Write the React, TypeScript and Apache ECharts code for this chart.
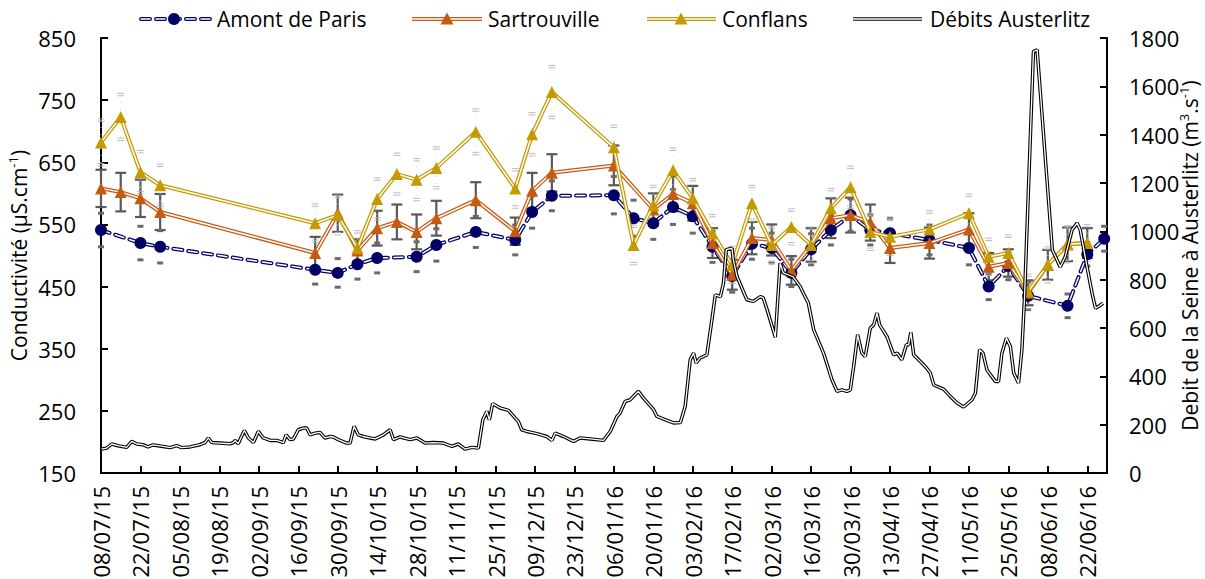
import React, { useEffect, useRef } from 'react';
import * as echarts from 'echarts';

const FONT = "'Open Sans', sans-serif";
const FS = 21;
const BASE = Date.UTC(2015, 6, 8);
const DAY = 86400000;

// ---- Axis ticks ----
const xTickLabels = ['08/07/15', '22/07/15', '05/08/15', '19/08/15', '02/09/15', '16/09/15', '30/09/15', '14/10/15', '28/10/15', '11/11/15', '25/11/15', '09/12/15', '23/12/15', '06/01/16', '20/01/16', '03/02/16', '17/02/16', '02/03/16', '16/03/16', '30/03/16', '13/04/16', '27/04/16', '11/05/16', '25/05/16', '08/06/16', '22/06/16'];
const xAxisEnd = '29/06/16';
const leftTicks = [150, 250, 350, 450, 550, 650, 750, 850];
const rightTicks = [0, 200, 400, 600, 800, 1000, 1200, 1400, 1600, 1800];

// ---- Amont de Paris ----
const amontDates = ['2015-07-08', '2015-07-22', '2015-07-29', '2015-09-22', '2015-09-30', '2015-10-07', '2015-10-14', '2015-10-28', '2015-11-04', '2015-11-18', '2015-12-02', '2015-12-08', '2015-12-15', '2016-01-06', '2016-01-13', '2016-01-20', '2016-01-27', '2016-02-03', '2016-02-10', '2016-02-17', '2016-02-24', '2016-03-02', '2016-03-09', '2016-03-16', '2016-03-23', '2016-03-30', '2016-04-06', '2016-04-13', '2016-04-27', '2016-05-11', '2016-05-18', '2016-05-25', '2016-06-01', '2016-06-15', '2016-06-22', '2016-06-28'];
const amontValues = [541, 520, 514, 477, 472, 486, 496, 498, 517, 538, 525, 570, 596, 597, 560, 552, 578, 563, 514, 467, 519, 512, 472, 510, 541, 565, 541, 536, 525, 512, 450, 483, 435, 419, 502, 527];
const amontErr = [27, 27, 26, 23, 23, 24, 24, 24, 26, 25, 24, 26, 24, 30, 29, 26, 28, 27, 25, 26, 25, 24, 22, 25, 24, 26, 24, 24, 24, 27, 21, 22, 22, 19, 19, 20];

// ---- Sartrouville ----
const sartDates = ['2015-07-08', '2015-07-15', '2015-07-22', '2015-07-29', '2015-09-22', '2015-09-30', '2015-10-07', '2015-10-14', '2015-10-21', '2015-10-28', '2015-11-04', '2015-11-18', '2015-12-02', '2015-12-08', '2015-12-15', '2016-01-06', '2016-01-20', '2016-01-27', '2016-02-03', '2016-02-10', '2016-02-17', '2016-02-24', '2016-03-02', '2016-03-09', '2016-03-16', '2016-03-23', '2016-03-30', '2016-04-06', '2016-04-13', '2016-04-27', '2016-05-11', '2016-05-18', '2016-05-25', '2016-06-01', '2016-06-08', '2016-06-15', '2016-06-22'];
const sartValues = [608, 602, 592, 570, 504, 568, 508, 544, 554, 538, 560, 589, 539, 604, 633, 645, 574, 599, 584, 520, 469, 528, 525, 476, 517, 560, 565, 553, 512, 520, 542, 482, 488, 440, 485, 518, 520];
const sartErr = [30, 31, 30, 29, 26, 30, 18, 28, 28, 28, 28, 29, 22, 29, 30, 32, 26, 28, 28, 24, 24, 26, 25, 23, 27, 32, 28, 29, 24, 25, 26, 22, 22, 20, 24, 27, 24];

// ---- Conflans ----
const confDates = ['2015-07-08', '2015-07-15', '2015-07-22', '2015-07-29', '2015-09-22', '2015-09-30', '2015-10-07', '2015-10-14', '2015-10-21', '2015-10-28', '2015-11-04', '2015-11-18', '2015-12-02', '2015-12-08', '2015-12-15', '2016-01-06', '2016-01-13', '2016-01-20', '2016-01-27', '2016-02-03', '2016-02-10', '2016-02-17', '2016-02-24', '2016-03-02', '2016-03-09', '2016-03-16', '2016-03-23', '2016-03-30', '2016-04-06', '2016-04-13', '2016-04-27', '2016-05-11', '2016-05-18', '2016-05-25', '2016-06-01', '2016-06-08', '2016-06-15', '2016-06-22'];
const confValues = [682, 723, 634, 613, 552, 565, 512, 591, 631, 622, 641, 699, 608, 695, 763, 674, 517, 581, 637, 592, 536, 485, 584, 517, 546, 517, 576, 610, 538, 530, 542, 568, 498, 504, 442, 485, 518, 520];
const confErr = [36, 36, 33, 32, 29, 30, 26, 32, 32, 32, 32, 35, 30, 33, 41, 34, 30, 30, 34, 30, 28, 28, 27, 28, 27, 27, 30, 32, 28, 28, 28, 29, 28, 27, 26, 27, 28, 28];

// ---- Débits Austerlitz (days since 08/07/15, m3/s) ----
const debitDays = [0.2, 2.0, 3.8, 6.0, 9.1, 10.9, 12.7, 14.9, 16.7, 18.5, 22.0, 24.5, 26.9, 28.6, 31.6, 35.1, 36.9, 38.1, 39.3, 42.2, 45.8, 47.0, 47.6, 48.7, 49.6, 50.9, 52.3, 54.1, 55.8, 57.6, 60.0, 62.4, 64.7, 65.7, 67.1, 68.3, 70.0, 71.8, 73.0, 74.2, 76.0, 77.7, 79.5, 81.3, 82.5, 84.2, 87.2, 88.4, 89.8, 91.3, 93.1, 95.5, 97.3, 100.2, 102.6, 103.8, 106.1, 109.7, 112.1, 115.0, 118.0, 121.5, 124.5, 126.8, 129.2, 131.6, 133.9, 135.5, 136.9, 137.8, 139.0, 141.6, 144.6, 147.0, 148.1, 149.3, 151.1, 154.7, 158.2, 160.0, 161.2, 164.1, 167.7, 170.0, 173.6, 178.3, 180.7, 183.1, 184.2, 186.0, 187.8, 190.7, 192.5, 196.1, 197.3, 200.8, 203.2, 205.6, 207.3, 209.1, 210.3, 211.2, 212.6, 215.0, 216.8, 218.0, 219.8, 220.9, 221.9, 223.9, 224.4, 225.7, 229.2, 231.5, 234.0, 235.0, 236.4, 239.3, 241.0, 242.1, 245.6, 248.1, 249.2, 251.0, 252.9, 256.4, 259.4, 261.2, 262.9, 264.7, 265.9, 267.1, 268.5, 270.0, 271.2, 273.0, 274.2, 275.4, 276.3, 278.9, 281.3, 282.5, 284.2, 285.8, 286.6, 287.4, 288.4, 290.7, 292.5, 294.3, 295.5, 296.7, 299.0, 301.4, 303.8, 306.1, 309.1, 310.3, 311.8, 313.0, 314.4, 315.6, 317.4, 318.5, 319.7, 321.3, 322.7, 323.9, 325.6, 326.8, 327.7, 330.9, 332.2, 335.7, 337.6, 338.7, 340.4, 342.2, 344.6, 346.4, 347.5, 349.9, 351.7, 352.9, 354.0, 355.6];
const debitValues = [99, 103, 120, 113, 106, 131, 120, 117, 108, 116, 110, 105, 113, 105, 108, 117, 126, 145, 126, 124, 121, 126, 135, 121, 145, 176, 145, 126, 172, 145, 135, 135, 126, 158, 138, 141, 179, 186, 186, 158, 165, 168, 145, 151, 149, 138, 124, 124, 193, 158, 151, 145, 141, 158, 179, 138, 149, 138, 145, 124, 126, 124, 110, 120, 99, 106, 103, 220, 255, 220, 287, 269, 259, 227, 213, 179, 172, 163, 151, 135, 165, 151, 131, 145, 141, 135, 172, 234, 248, 296, 303, 338, 310, 262, 234, 218, 207, 209, 275, 469, 496, 455, 476, 489, 634, 737, 730, 786, 924, 930, 882, 813, 717, 710, 730, 725, 675, 562, 868, 828, 812, 772, 745, 704, 593, 496, 386, 338, 344, 338, 344, 441, 572, 496, 482, 600, 613, 662, 613, 565, 489, 496, 469, 531, 531, 582, 489, 462, 441, 414, 365, 358, 347, 317, 290, 273, 303, 331, 510, 496, 427, 407, 379, 379, 496, 558, 524, 414, 372, 510, 717, 1744, 1751, 1213, 923, 896, 852, 896, 1006, 1034, 1006, 854, 744, 682, 689, 703];

const NAVY = '#000066';
const ORANGE = '#C65A11';
const GOLD = '#C49A00';

const dayOfIso = (s: string) =>
  Math.round((Date.UTC(+s.slice(0, 4), +s.slice(5, 7) - 1, +s.slice(8, 10)) - BASE) / DAY);
const dayOfLabel = (s: string) =>
  Math.round((Date.UTC(2000 + +s.slice(6, 8), +s.slice(3, 5) - 1, +s.slice(0, 2)) - BASE) / DAY);

const xTickDays = xTickLabels.map(dayOfLabel);
const labelByDay: Record<number, string> = {};
xTickLabels.forEach((l, i) => (labelByDay[xTickDays[i]] = l));

function pairs(dates: string[], vals: number[]) {
  return dates.map((d, i) => [dayOfIso(d), vals[i]]);
}

function errSeries(dates: string[], vals: number[], errs: number[], kind: 'sart' | 'amont' | 'conf') {
  return {
    type: 'custom',
    z: 1,
    silent: true,
    data: dates.map((d, i) => [dayOfIso(d), vals[i], errs[i]]),
    encode: { x: 0, y: 1 },
    renderItem: (params: any, api: any) => {
      const x = api.value(0);
      const v = api.value(1);
      const e = api.value(2);
      const top = api.coord([x, v + e]);
      const bot = api.coord([x, v - e]);
      const children: any[] = [];
      if (kind === 'sart') {
        const cw = 5.5;
        const st = { stroke: '#595959', lineWidth: 2.2 };
        children.push({ type: 'line', shape: { x1: top[0], y1: top[1], x2: bot[0], y2: bot[1] }, style: st });
        children.push({ type: 'line', shape: { x1: top[0] - cw, y1: top[1], x2: top[0] + cw, y2: top[1] }, style: st });
        children.push({ type: 'line', shape: { x1: bot[0] - cw, y1: bot[1], x2: bot[0] + cw, y2: bot[1] }, style: st });
      } else if (kind === 'amont') {
        const w = 6;
        [top, bot].forEach((p) =>
          children.push({ type: 'rect', shape: { x: p[0] - w / 2, y: p[1] - 1.5, width: w, height: 3 }, style: { fill: '#6a6a6a' } })
        );
      } else {
        const w = 7;
        children.push({ type: 'line', shape: { x1: top[0], y1: top[1], x2: bot[0], y2: bot[1] }, style: { stroke: '#d0d0d0', lineWidth: 1, lineDash: [1, 6] } });
        [top, bot].forEach((p) => {
          children.push({ type: 'line', shape: { x1: p[0] - w / 2, y1: p[1] - 1.2, x2: p[0] + w / 2, y2: p[1] - 1.2 }, style: { stroke: '#b4b4b4', lineWidth: 0.9 } });
          children.push({ type: 'line', shape: { x1: p[0] - w / 2, y1: p[1] + 1.2, x2: p[0] + w / 2, y2: p[1] + 1.2 }, style: { stroke: '#b4b4b4', lineWidth: 0.9 } });
        });
      }
      return { type: 'group', children };
    },
  };
}

function legendGraphic() {
  const y = 19;
  const els: any[] = [];
  const dbl = (x1: number, x2: number, color: string, outer: number, inner: number, dash?: number[]) => {
    els.push({ type: 'line', z: 10, shape: { x1, y1: y, x2, y2: y }, style: { stroke: color, lineWidth: outer, lineDash: dash, lineCap: dash ? 'round' : 'butt' } });
    els.push({ type: 'line', z: 11, shape: { x1, y1: y, x2, y2: y }, style: { stroke: '#fff', lineWidth: inner, lineDash: dash, lineCap: dash ? 'round' : 'butt' } });
  };
  const tri = (cx: number, color: string) =>
    els.push({ type: 'polygon', z: 12, shape: { points: [[cx - 6.5, y + 5.5], [cx + 6.5, y + 5.5], [cx, y - 6.5]] }, style: { fill: color } });
  const txt = (x: number, t: string) =>
    els.push({ type: 'text', z: 12, x, y, style: { text: t, fontSize: FS, fontFamily: FONT, fill: '#000', textVerticalAlign: 'middle', textAlign: 'left' } });

  dbl(141, 210, NAVY, 4, 1.5, [9, 6]);
  els.push({ type: 'circle', z: 12, shape: { cx: 174, cy: y, r: 6 }, style: { fill: NAVY } });
  txt(217, 'Amont de Paris');

  dbl(412, 482, ORANGE, 4, 1.5);
  tri(447, ORANGE);
  txt(488, 'Sartrouville');

  dbl(647, 716, GOLD, 4, 1.5);
  tri(681, GOLD);
  txt(722, 'Conflans');

  dbl(853, 922, '#000', 3.5, 1.3);
  txt(930, 'Débits Austerlitz');
  return els;
}

export default function App() {
  const ref = useRef<HTMLDivElement>(null);
  useEffect(() => {
    document.body.style.margin = '0';
    const chart = echarts.init(ref.current!, null, { renderer: 'svg' });
    const axisLineStyle = { color: '#000', width: 2 };
    const labelStyle = { fontSize: 22, fontFamily: FONT, color: '#000' };
    const nameRich = {
      a: { fontSize: FS, fontFamily: FONT, color: '#000', lineHeight: 26 },
      s: { fontSize: 13, fontFamily: FONT, color: '#000', lineHeight: 14, verticalAlign: 'top' },
    };
    const lineSeries = (data: any[], color: string, outer: number, inner: number, z: number, symbol: string | null, yAxisIndex = 0, dash?: number[]) => [
      {
        type: 'line', data, yAxisIndex, z, showSymbol: false, symbol: 'none', silent: true,
        lineStyle: { color, width: outer, type: dash || 'solid', cap: dash ? 'round' : 'butt' },
      },
      {
        type: 'line', data, yAxisIndex, z: z + 1, silent: true,
        symbol: symbol || 'none', showSymbol: !!symbol, symbolSize: 12,
        itemStyle: { color, borderWidth: 0 },
        lineStyle: { color: '#fff', width: inner, type: dash || 'solid', cap: dash ? 'round' : 'butt' },
      },
    ];
    const option: any = {
      animation: false,
      textStyle: { fontFamily: FONT },
      grid: { left: 101, right: 98, top: 38, bottom: 106, containLabel: false, outerBoundsMode: 'none' },
      xAxis: {
        type: 'value', min: 0, max: dayOfLabel(xAxisEnd),
        axisLine: { show: true, onZero: false, lineStyle: axisLineStyle },
        axisTick: { show: true, inside: true, length: 7, lineStyle: axisLineStyle, customValues: xTickDays },
        axisLabel: { ...labelStyle, fontSize: 22, customValues: xTickDays, rotate: 90, margin: 13, formatter: (v: number) => labelByDay[Math.round(v)] || '' },
        splitLine: { show: false },
      },
      yAxis: [
        {
          type: 'value', min: leftTicks[0], max: leftTicks[leftTicks.length - 1], position: 'left',
          axisLine: { show: true, lineStyle: axisLineStyle },
          axisTick: { show: true, inside: true, length: 7, lineStyle: axisLineStyle, customValues: leftTicks },
          axisLabel: { ...labelStyle, customValues: leftTicks, margin: 25, formatter: (v: number) => String(v) },
          splitLine: { show: false },
          name: '{a|Conductivité (µS.cm}{s|-1}{a|)}',
          nameLocation: 'middle', nameRotate: 90, nameGap: 69, nameMoveOverlap: false,
          nameTextStyle: { rich: nameRich },
        },
        {
          type: 'value', min: rightTicks[0], max: rightTicks[rightTicks.length - 1], position: 'right',
          axisLine: { show: true, lineStyle: axisLineStyle },
          axisTick: { show: true, inside: true, length: 7, lineStyle: axisLineStyle, customValues: rightTicks },
          axisLabel: { ...labelStyle, customValues: rightTicks, margin: 22, formatter: (v: number) => String(v) },
          splitLine: { show: false },
          name: '{a|Debit de la Seine à Austerlitz (m}{s|3}{a|.s}{s|-1}{a|)}',
          nameLocation: 'middle', nameRotate: 90, nameGap: 70, nameMoveOverlap: false,
          nameTextStyle: { rich: nameRich },
        },
      ],
      series: [
        errSeries(sartDates, sartValues, sartErr, 'sart'),
        errSeries(amontDates, amontValues, amontErr, 'amont'),
        errSeries(confDates, confValues, confErr, 'conf'),
        ...lineSeries(pairs(amontDates, amontValues), NAVY, 4, 1.5, 2, 'circle', 0, [9, 6]),
        ...lineSeries(pairs(sartDates, sartValues), ORANGE, 4, 1.5, 4, 'triangle'),
        ...lineSeries(pairs(confDates, confValues), GOLD, 4, 1.5, 6, 'triangle'),
        ...lineSeries(debitDays.map((d, i) => [d, debitValues[i]]), '#000', 3.5, 1.3, 8, null, 1),
      ],
      graphic: legendGraphic(),
    };
    chart.setOption(option);
    return () => chart.dispose();
  }, []);
  return <div ref={ref} style={{ width: 1205, height: 579 }} />;
}
